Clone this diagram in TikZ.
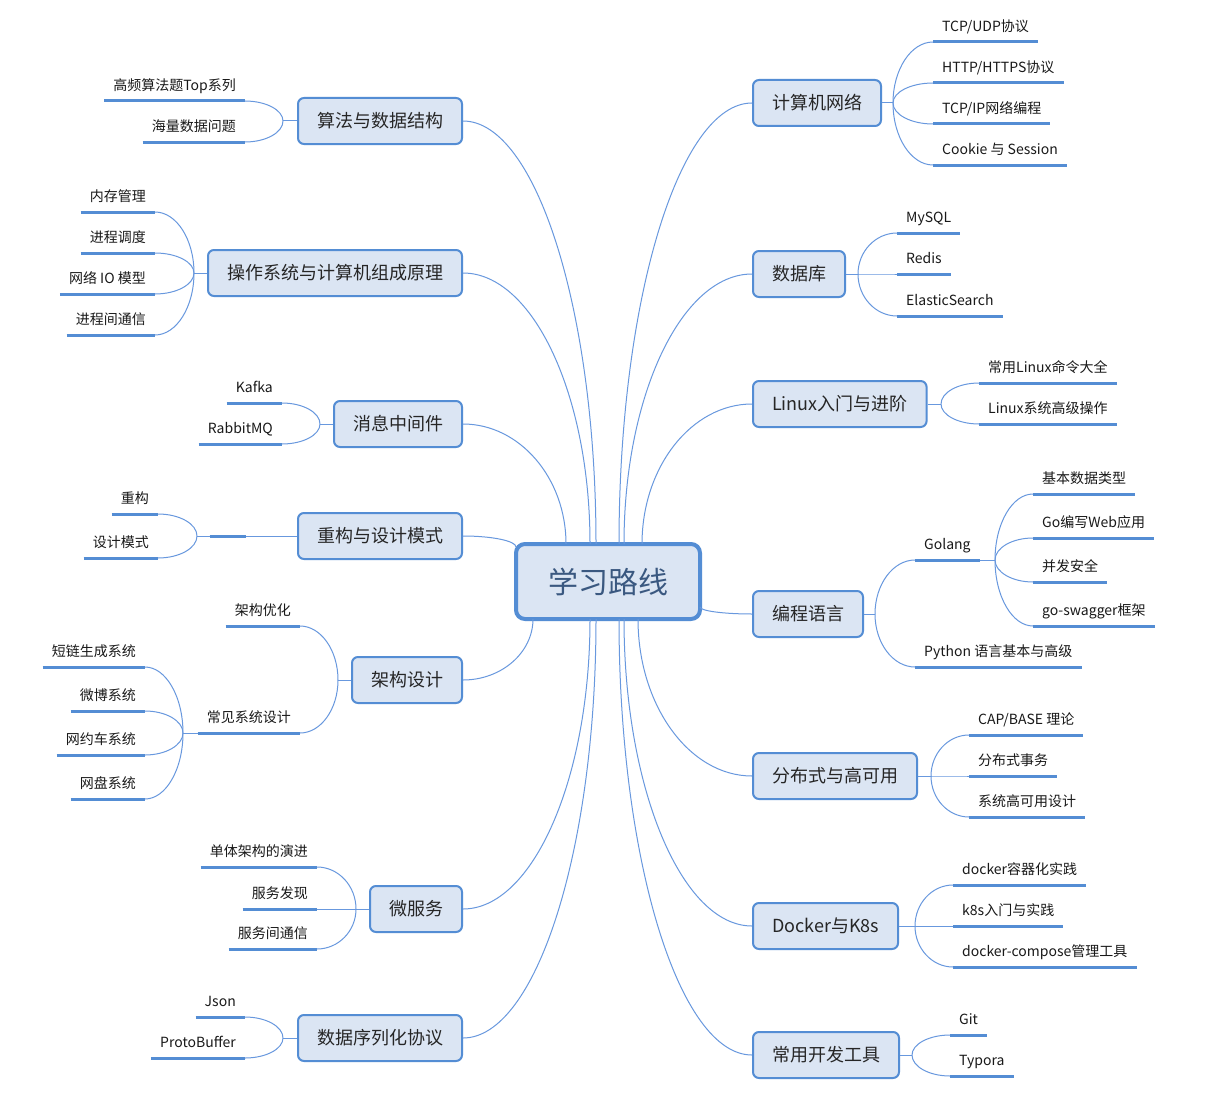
\documentclass[tikz,border=0pt]{standalone}
\usepackage{fontspec}
\setmainfont{Noto Sans CJK SC}
\usetikzlibrary{calc, positioning}
\definecolor{boxfill}{RGB}{219,229,243}
\definecolor{boxline}{RGB}{84,141,212}
\definecolor{connline}{RGB}{104,152,222}
\definecolor{roottext}{RGB}{58,88,128}
\tikzset{
  mainbox/.style={draw=boxline, fill=boxfill, line width=4pt, rounded corners=9pt, minimum width=184pt, minimum height=75pt, font=\fontsize{30}{36}\selectfont, text=roottext},
  topicbox/.style={draw=boxline, fill=boxfill, line width=2pt, rounded corners=6pt, minimum height=46pt, inner xsep=19pt, text height=15pt, text depth=2pt, font=\fontsize{18}{22}\selectfont, text=black!85},
  leafnode/.style={inner xsep=9pt, inner ysep=0pt, text height=12pt, text depth=10.5pt, font=\fontsize{14}{17}\selectfont, text=black!90},
  conn/.style={draw=connline, line width=1pt},
  uline/.style={draw=boxline, line width=3pt},
  hv/.style={to path={.. controls ($(\tikztostart)!0.55!(\tikztotarget |- \tikztostart)$) and ($(\tikztotarget)!0.55!(\tikztotarget |- \tikztostart)$) .. (\tikztotarget)}},
  vh/.style={to path={.. controls ($(\tikztostart)!0.55!(\tikztostart |- \tikztotarget)$) and ($(\tikztotarget)!0.55!(\tikztostart |- \tikztotarget)$) .. (\tikztotarget)}}
}

\begin{document}
\begin{tikzpicture}[x=1pt, y=-1pt]
\path[use as bounding box, fill=white] (0,0) rectangle (1212,1097);

\node[mainbox] (root) at (608,581.5) {学习路线};

\node[topicbox, anchor=east] (t1) at (463,121) {算法与数据结构};
\node[topicbox, anchor=east] (t2) at (463,273) {操作系统与计算机组成原理};
\node[topicbox, anchor=east] (t3) at (463,424) {消息中间件};
\node[topicbox, anchor=east] (t4) at (463,536) {重构与设计模式};
\node[topicbox, anchor=east] (t5) at (463,680) {架构设计};
\node[topicbox, anchor=east] (t6) at (463,909) {微服务};
\node[topicbox, anchor=east] (t7) at (463,1038) {数据序列化协议};
\node[topicbox, anchor=west] (t8) at (752,103) {计算机网络};
\node[topicbox, anchor=west] (t9) at (752,274) {数据库};
\node[topicbox, anchor=west] (t10) at (752,404) {Linux入门与进阶};
\node[topicbox, anchor=west] (t11) at (752,614) {编程语言};
\node[topicbox, anchor=west] (t12) at (752,776) {分布式与高可用};
\node[topicbox, anchor=west] (t13) at (752,926) {Docker与K8s};
\node[topicbox, anchor=west] (t14) at (752,1055) {常用开发工具};

\coordinate (r1) at (596,544);
\coordinate (r2) at (590,544);
\coordinate (r3) at (566,544);
\coordinate (r4) at (516,547);
\coordinate (r5) at (533,619);
\coordinate (r6) at (590,619);
\coordinate (r7) at (596,619);
\coordinate (r8) at (619,544);
\coordinate (r9) at (624,544);
\coordinate (r10) at (642,544);
\coordinate (r11) at (700,607);
\coordinate (r12) at (638,619);
\coordinate (r13) at (624,619);
\coordinate (r14) at (619,619);

\draw[conn] (t1.east) to[hv] (r1);
\draw[conn] (t2.east) to[hv] (r2);
\draw[conn] (t3.east) to[hv] (r3);
\draw[conn] (t4.east) to[hv] (r4);
\draw[conn] (t5.east) to[hv] (r5);
\draw[conn] (t6.east) to[hv] (r6);
\draw[conn] (t7.east) to[hv] (r7);
\draw[conn] (t8.west) to[hv] (r8);
\draw[conn] (t9.west) to[hv] (r9);
\draw[conn] (t10.west) to[hv] (r10);
\draw[conn] (t11.west) to[hv] (r11);
\draw[conn] (t12.west) to[hv] (r12);
\draw[conn] (t13.west) to[hv] (r13);
\draw[conn] (t14.west) to[hv] (r14);

\node[leafnode, anchor=south east] (alg1) at (245,101) {高频算法题Top系列};
\node[leafnode, anchor=south east] (alg2) at (245,142) {海量数据问题};
\node[leafnode, anchor=south east] (os1) at (155,212) {内存管理};
\node[leafnode, anchor=south east] (os2) at (155,253) {进程调度};
\node[leafnode, anchor=south east] (os3) at (155,294) {网络 IO 模型};
\node[leafnode, anchor=south east] (os4) at (155,335) {进程间通信};
\node[leafnode, anchor=south east] (mq1) at (282,403) {Kafka};
\node[leafnode, anchor=south east] (mq2) at (282,444) {RabbitMQ};
\node[leafnode, anchor=south east, minimum width=36pt] (rf0) at (246,536) {};
\node[leafnode, anchor=south east] (rf1) at (158,514) {重构};
\node[leafnode, anchor=south east] (rf2) at (158,558) {设计模式};
\node[leafnode, anchor=south east] (ar1) at (300,626) {架构优化};
\node[leafnode, anchor=south east] (ar2) at (300,733) {常见系统设计};
\node[leafnode, anchor=south east] (ar3) at (145,667) {短链生成系统};
\node[leafnode, anchor=south east] (ar4) at (145,711) {微博系统};
\node[leafnode, anchor=south east] (ar5) at (145,755) {网约车系统};
\node[leafnode, anchor=south east] (ar6) at (145,799) {网盘系统};
\node[leafnode, anchor=south east] (ms1) at (317,867) {单体架构的演进};
\node[leafnode, anchor=south east] (ms2) at (317,909) {服务发现};
\node[leafnode, anchor=south east] (ms3) at (317,949) {服务间通信};
\node[leafnode, anchor=south east] (se1) at (245,1017) {Json};
\node[leafnode, anchor=south east] (se2) at (245,1058) {ProtoBuffer};

\node[leafnode, anchor=south west] (net1) at (933,42) {TCP/UDP协议};
\node[leafnode, anchor=south west] (net2) at (933,83) {HTTP/HTTPS协议};
\node[leafnode, anchor=south west] (net3) at (933,124) {TCP/IP网络编程};
\node[leafnode, anchor=south west] (net4) at (933,165) {Cookie 与 Session};
\node[leafnode, anchor=south west] (db1) at (897,233) {MySQL};
\node[leafnode, anchor=south west] (db2) at (897,274) {Redis};
\node[leafnode, anchor=south west] (db3) at (897,316) {ElasticSearch};
\node[leafnode, anchor=south west] (lx1) at (979,383) {常用Linux命令大全};
\node[leafnode, anchor=south west] (lx2) at (979,424) {Linux系统高级操作};
\node[leafnode, anchor=south west] (pl1) at (915,560) {Golang};
\node[leafnode, anchor=south west] (pl2) at (915,667) {Python 语言基本与高级};
\node[leafnode, anchor=south west] (pl3) at (1033,494) {基本数据类型};
\node[leafnode, anchor=south west] (pl4) at (1033,538) {Go编写Web应用};
\node[leafnode, anchor=south west] (pl5) at (1033,582) {并发安全};
\node[leafnode, anchor=south west] (pl6) at (1033,626) {go-swagger框架};
\node[leafnode, anchor=south west] (ds1) at (969,735) {CAP/BASE 理论};
\node[leafnode, anchor=south west] (ds2) at (969,776) {分布式事务};
\node[leafnode, anchor=south west] (ds3) at (969,817) {系统高可用设计};
\node[leafnode, anchor=south west] (dk1) at (953,885) {docker容器化实践};
\node[leafnode, anchor=south west] (dk2) at (953,926) {k8s入门与实践};
\node[leafnode, anchor=south west] (dk3) at (953,967) {docker-compose管理工具};
\node[leafnode, anchor=south west] (tl1) at (950,1035) {Git};
\node[leafnode, anchor=south west] (tl2) at (950,1076) {Typora};

\coordinate (f1) at (283,121);
\coordinate (f2) at (194,273);
\coordinate (f3) at (320,424);
\coordinate (f4) at (197,536);
\coordinate (f5) at (338,680);
\coordinate (f5b) at (183,733);
\coordinate (f6) at (356,909);
\coordinate (f7) at (283,1038);
\coordinate (f8) at (893,103);
\coordinate (f9) at (858,274);
\coordinate (f10) at (941,404);
\coordinate (f11) at (875,614);
\coordinate (f11b) at (995,560);
\coordinate (f12) at (931,776);
\coordinate (f13) at (915,926);
\coordinate (f14) at (912,1055);

\draw[conn] (t1.west) -- (f1);
\draw[conn] (f1) to[vh] (alg1.south east);
\draw[conn] (f1) to[vh] (alg2.south east);
\draw[conn] (t2.west) -- (f2);
\draw[conn] (f2) to[vh] (os1.south east);
\draw[conn] (f2) to[vh] (os2.south east);
\draw[conn] (f2) to[vh] (os3.south east);
\draw[conn] (f2) to[vh] (os4.south east);
\draw[conn] (t3.west) -- (f3);
\draw[conn] (f3) to[vh] (mq1.south east);
\draw[conn] (f3) to[vh] (mq2.south east);
\draw[conn] (t4.west) -- (rf0.south east);
\draw[conn] (rf0.south west) -- (f4);
\draw[conn] (f4) to[vh] (rf1.south east);
\draw[conn] (f4) to[vh] (rf2.south east);
\draw[conn] (t5.west) -- (f5);
\draw[conn] (f5) to[vh] (ar1.south east);
\draw[conn] (f5) to[vh] (ar2.south east);
\draw[conn] (ar2.south west) -- (f5b);
\draw[conn] (f5b) to[vh] (ar3.south east);
\draw[conn] (f5b) to[vh] (ar4.south east);
\draw[conn] (f5b) to[vh] (ar5.south east);
\draw[conn] (f5b) to[vh] (ar6.south east);
\draw[conn] (t6.west) -- (f6);
\draw[conn] (f6) to[vh] (ms1.south east);
\draw[conn] (f6) to[vh] (ms2.south east);
\draw[conn] (f6) to[vh] (ms3.south east);
\draw[conn] (t7.west) -- (f7);
\draw[conn] (f7) to[vh] (se1.south east);
\draw[conn] (f7) to[vh] (se2.south east);

\draw[conn] (t8.east) -- (f8);
\draw[conn] (f8) to[vh] (net1.south west);
\draw[conn] (f8) to[vh] (net2.south west);
\draw[conn] (f8) to[vh] (net3.south west);
\draw[conn] (f8) to[vh] (net4.south west);
\draw[conn] (t9.east) -- (f9);
\draw[conn] (f9) to[vh] (db1.south west);
\draw[conn] (f9) to[vh] (db2.south west);
\draw[conn] (f9) to[vh] (db3.south west);
\draw[conn] (t10.east) -- (f10);
\draw[conn] (f10) to[vh] (lx1.south west);
\draw[conn] (f10) to[vh] (lx2.south west);
\draw[conn] (t11.east) -- (f11);
\draw[conn] (f11) to[vh] (pl1.south west);
\draw[conn] (f11) to[vh] (pl2.south west);
\draw[conn] (pl1.south east) -- (f11b);
\draw[conn] (f11b) to[vh] (pl3.south west);
\draw[conn] (f11b) to[vh] (pl4.south west);
\draw[conn] (f11b) to[vh] (pl5.south west);
\draw[conn] (f11b) to[vh] (pl6.south west);
\draw[conn] (t12.east) -- (f12);
\draw[conn] (f12) to[vh] (ds1.south west);
\draw[conn] (f12) to[vh] (ds2.south west);
\draw[conn] (f12) to[vh] (ds3.south west);
\draw[conn] (t13.east) -- (f13);
\draw[conn] (f13) to[vh] (dk1.south west);
\draw[conn] (f13) to[vh] (dk2.south west);
\draw[conn] (f13) to[vh] (dk3.south west);
\draw[conn] (t14.east) -- (f14);
\draw[conn] (f14) to[vh] (tl1.south west);
\draw[conn] (f14) to[vh] (tl2.south west);

\foreach \n in {alg1,alg2,os1,os2,os3,os4,mq1,mq2,rf0,rf1,rf2,ar1,ar2,ar3,ar4,ar5,ar6,ms1,ms2,ms3,se1,se2,net1,net2,net3,net4,db1,db2,db3,lx1,lx2,pl1,pl2,pl3,pl4,pl5,pl6,ds1,ds2,ds3,dk1,dk2,dk3,tl1,tl2}
  \draw[uline] (\n.south west) -- (\n.south east);
\end{tikzpicture}
\end{document}
